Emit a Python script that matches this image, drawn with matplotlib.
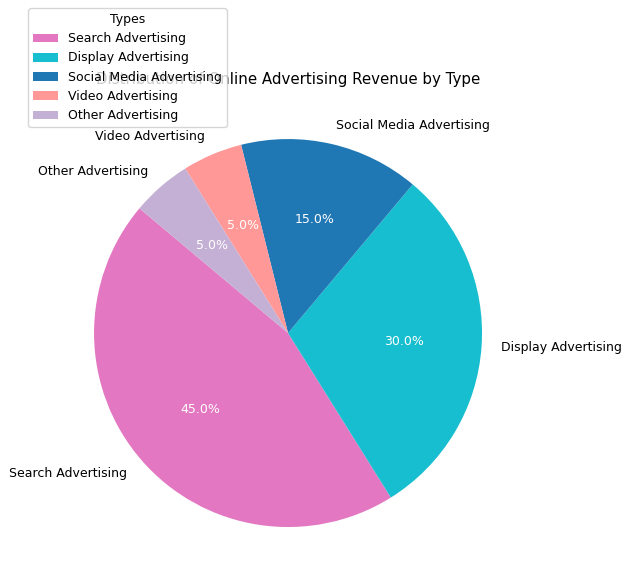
import matplotlib
matplotlib.use("Agg")
import matplotlib.pyplot as plt

types = ['Search Advertising', 'Display Advertising', 'Social Media Advertising',
         'Video Advertising', 'Other Advertising']
shares = [45, 30, 15, 5, 5]
colors = ['#e377c2', '#17becf', '#1f77b4', '#ff9896', '#c5b0d5']

fs = 9.0

fig = plt.figure(figsize=(6.3, 5.85), dpi=100)
ax = fig.add_axes([0.0722, 0.0162, 0.770, 0.829])

wedges, texts, autotexts = ax.pie(shares, labels=types, colors=colors,
                                  autopct='%1.1f%%', startangle=140,
                                  textprops={'fontsize': fs})
for t in autotexts:
    t.set_color('white')
ax.set_xlim(-1.25, 1.25)
ax.set_ylim(-1.25, 1.25)
ax.set_aspect('equal')
ax.set_title('Distribution of Online Advertising Revenue by Type', fontsize=10.8, pad=5)

ax.legend(wedges, types, title='Types', loc='upper left', fontsize=fs, title_fontsize=fs,
          bbox_to_anchor=(28 / 630, 1 - 8 / 585), bbox_transform=fig.transFigure,
          borderaxespad=0)

fig.savefig('out.png', dpi=100)
